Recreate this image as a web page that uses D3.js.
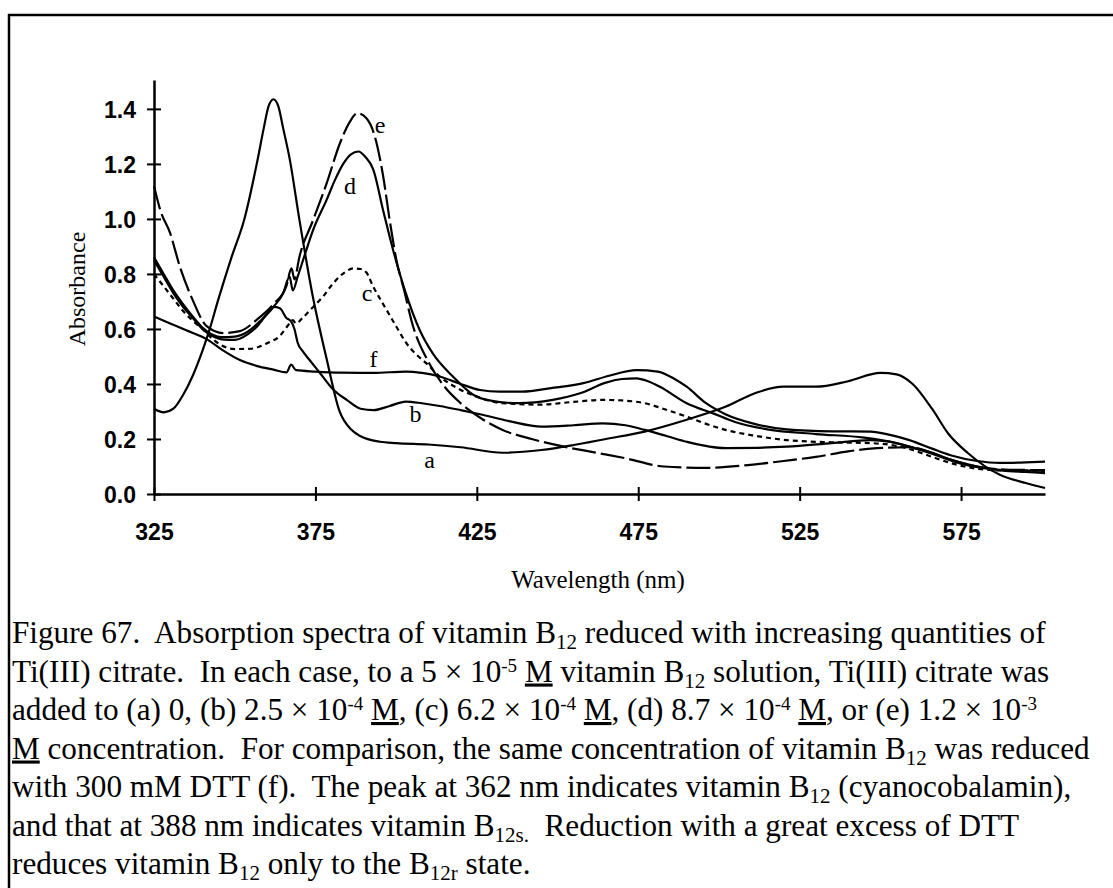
<!DOCTYPE html>
<html>
<head>
<meta charset="utf-8">
<script src="https://cdn.jsdelivr.net/npm/d3@7"></script>
<style>
  html, body { margin: 0; padding: 0; background: #fff; }
  svg { display: block; }
  text { white-space: pre; }
</style>
</head>
<body>
<script>
// ---------- DATA ----------
const xTicks = [325, 375, 425, 475, 525, 575];
const yTicks = [0.0, 0.2, 0.4, 0.6, 0.8, 1.0, 1.2, 1.4];

// (a) vitamin B12, no Ti(III)
const seriesA = [[325,0.31],[328,0.297],[331,0.31],[334,0.36],[337,0.43],[340,0.52],[342,0.59],[345,0.71],[349,0.86],[353,1.0],[357,1.21],[359,1.33],[360.5,1.41],[362,1.435],[363.5,1.41],[365,1.33],[367,1.22],[370,1.0],[374,0.73],[378.5,0.49],[382.5,0.3],[386,0.235],[389,0.21],[395,0.19],[400,0.185],[410,0.18],[420,0.17],[433,0.15],[445,0.16],[455,0.178],[465,0.2],[477,0.227],[490,0.27],[502,0.317],[512,0.37],[520,0.39],[530,0.39],[540,0.41],[550,0.44],[555,0.435],[560,0.4],[566,0.31],[571,0.22],[577,0.15],[587,0.07],[595,0.04],[601,0.022]];
// (b) 2.5e-4 M
const seriesB = [[325,0.85],[328,0.79],[331,0.73],[334,0.68],[337,0.64],[340,0.6],[343,0.575],[346,0.562],[350,0.56],[354,0.58],[357,0.61],[360,0.655],[362,0.68],[364,0.675],[366,0.64],[367.5,0.627],[368.5,0.6],[369.5,0.55],[371,0.52],[373,0.49],[376.4,0.44],[380.5,0.38],[384.7,0.342],[389,0.31],[393,0.305],[398,0.32],[403,0.336],[408,0.33],[413.5,0.32],[420,0.305],[426,0.29],[435,0.265],[445,0.245],[455,0.25],[464,0.257],[471,0.25],[477,0.233],[484,0.21],[490,0.19],[502,0.167],[512,0.168],[521,0.172],[535,0.185],[547,0.196],[553,0.19],[559,0.172],[566,0.15],[572,0.124],[580,0.1],[588,0.085],[595,0.08],[601,0.076]];
// (c) 6.2e-4 M (dashed)
const seriesC = [[325,0.8],[328,0.755],[331,0.71],[334,0.665],[337,0.63],[340,0.6],[343,0.565],[346,0.54],[350,0.527],[355,0.528],[360,0.548],[364,0.575],[367,0.62],[368,0.632],[369,0.62],[371,0.64],[374.3,0.68],[377.5,0.72],[380.5,0.766],[384,0.805],[386.7,0.82],[389,0.818],[390.8,0.805],[392.9,0.754],[395,0.71],[397,0.67],[400,0.61],[403.2,0.548],[406,0.51],[409.4,0.475],[413.5,0.427],[419,0.385],[425,0.354],[433,0.33],[445,0.325],[455,0.335],[464,0.342],[470,0.34],[477,0.33],[484,0.305],[490,0.281],[496,0.255],[502,0.233],[511,0.212],[521,0.196],[535,0.188],[547,0.185],[555,0.175],[560,0.16],[566,0.135],[572,0.112],[580,0.092],[590,0.085],[601,0.085]];
// (d) 8.7e-4 M
const seriesD = [[325,0.86],[328,0.8],[331,0.74],[334,0.69],[337,0.645],[340,0.605],[343,0.58],[346,0.57],[350,0.572],[354,0.59],[358,0.63],[362,0.68],[365,0.73],[367,0.79],[368,0.74],[369.5,0.79],[372,0.88],[374.3,0.96],[378.5,1.07],[381,1.14],[383.6,1.2],[386,1.235],[388.3,1.245],[390.5,1.225],[392.9,1.18],[396,1.03],[399,0.89],[403,0.73],[407.3,0.596],[411.4,0.51],[417.6,0.427],[424,0.36],[428,0.342],[438,0.33],[448.5,0.342],[457,0.366],[465,0.405],[470,0.418],[474.4,0.42],[478,0.41],[481.7,0.39],[490,0.33],[498,0.294],[505,0.262],[515,0.235],[530,0.218],[545,0.205],[555,0.185],[565,0.15],[575,0.11],[585,0.09],[593,0.085],[601,0.085]];
// (e) 1.2e-3 M (long dashes)
const seriesE = [[325,1.12],[327,1.03],[330,0.948],[333,0.827],[337,0.705],[341.3,0.61],[346.4,0.585],[351.6,0.592],[356.8,0.633],[362,0.69],[366,0.756],[367.6,0.82],[368.5,0.78],[370,0.86],[374.3,0.996],[378.5,1.13],[382.6,1.275],[385.7,1.354],[388,1.384],[390.8,1.366],[393.4,1.3],[396,1.154],[398,0.996],[400.1,0.85],[402.5,0.74],[405,0.62],[410,0.48],[415,0.39],[420,0.33],[427,0.27],[433,0.233],[442,0.2],[452,0.172],[462,0.15],[471,0.13],[483,0.1],[496,0.095],[509,0.105],[520,0.12],[530,0.135],[540,0.155],[547,0.165],[559,0.17],[566,0.15],[572,0.124],[580,0.1],[590,0.088],[601,0.087]];
// (f) 300 mM DTT
const seriesF = [[325,0.645],[330,0.62],[335,0.595],[341.3,0.563],[346,0.525],[351.6,0.487],[357,0.465],[362,0.452],[366,0.442],[367.5,0.47],[369,0.45],[375,0.445],[382.6,0.441],[393,0.44],[403,0.445],[408,0.44],[413.5,0.427],[420,0.4],[426,0.378],[432,0.372],[439,0.372],[448,0.385],[458,0.403],[466,0.43],[474.5,0.45],[481,0.445],[486,0.42],[490,0.39],[496,0.33],[502,0.29],[511,0.255],[521,0.235],[535,0.228],[547,0.227],[553,0.215],[559,0.196],[566,0.165],[572,0.14],[580,0.12],[587,0.113],[595,0.115],[601,0.118]];

const seriesNames = ["a", "b", "c", "d", "e", "f"];
const seriesDash = ["none", "none", "5,4", "none", "24,5", "none"];
// label anchor points (wavelength, absorbance)
const labelWl = [410.4, 406, 391, 385.7, 395, 393];
const labelAbs = [0.124, 0.29, 0.73, 1.117, 1.342, 0.49];

const xTitle = "Wavelength (nm)";
const yTitle = "Absorbance";
const captionLines = [
  [["Figure 67.  Absorption spectra of vitamin B"],["12","sub"],[" reduced with increasing quantities of"]],
  [["Ti(III) citrate.  In each case, to a 5 \u00d7 10"],["-5","sup"],[" "],["M","u"],[" vitamin B"],["12","sub"],[" solution, Ti(III) citrate was"]],
  [["added to (a) 0, (b) 2.5 \u00d7 10"],["-4","sup"],[" "],["M","u"],[", (c) 6.2 \u00d7 10"],["-4","sup"],[" "],["M","u"],[", (d) 8.7 \u00d7 10"],["-4","sup"],[" "],["M","u"],[", or (e) 1.2 \u00d7 10"],["-3","sup"]],
  [["M","u"],[" concentration.  For comparison, the same concentration of vitamin B"],["12","sub"],[" was reduced"]],
  [["with 300 mM DTT (f).  The peak at 362 nm indicates vitamin B"],["12","sub"],[" (cyanocobalamin),"]],
  [["and that at 388 nm indicates vitamin B"],["12s.","sub"],["  Reduction with a great excess of DTT"]],
  [["reduces vitamin B"],["12","sub"],[" only to the B"],["12r","sub"],[" state."]]
];

// ---------- DRAW ----------
const W = 1113, H = 888;
const svg = d3.select("body").append("svg").attr("width", W).attr("height", H);
svg.append("rect").attr("width", W).attr("height", H).attr("fill", "#fff");

// frame
svg.append("line").attr("x1", 8).attr("x2", W).attr("y1", 15).attr("y2", 15)
  .attr("stroke", "#000").attr("stroke-width", 2.5);
svg.append("line").attr("x1", 9).attr("x2", 9).attr("y1", 14).attr("y2", H)
  .attr("stroke", "#000").attr("stroke-width", 2.5);

const x = d3.scaleLinear().domain([325, 601]).range([154, 1045]);
const y = d3.scaleLinear().domain([0, 1.505]).range([494, 80]);

const sansFont = "'Liberation Sans', Arial, sans-serif";
const serifFont = "'Liberation Serif', 'Times New Roman', serif";

// x axis
const gx = svg.append("g").attr("transform", `translate(0,${y(0)})`)
  .call(d3.axisBottom(x).tickValues(xTicks).tickSize(7).tickSizeOuter(0).tickFormat(d3.format("d")));
gx.select(".domain").attr("stroke-width", 2.5);
gx.selectAll(".tick line").attr("y1", -7).attr("y2", 7).attr("stroke-width", 2);
gx.selectAll(".tick text").attr("y", 46).attr("dy", 0)
  .attr("font-family", sansFont).attr("font-size", 23).attr("font-weight", "bold").attr("fill", "#000");

// y axis
const gy = svg.append("g").attr("transform", `translate(${x(325)},0)`)
  .call(d3.axisLeft(y).tickValues(yTicks).tickSize(7).tickSizeOuter(0).tickFormat(d3.format(".1f")));
gy.select(".domain").attr("stroke-width", 2.5);
gy.selectAll(".tick line").attr("x1", 7).attr("x2", -7).attr("stroke-width", 2);
gy.selectAll(".tick text").attr("x", -18).attr("dy", "0.36em")
  .attr("font-family", sansFont).attr("font-size", 23).attr("font-weight", "bold").attr("fill", "#000");

// axis titles
svg.append("text").attr("x", 598).attr("y", 588).attr("text-anchor", "middle")
  .attr("font-family", serifFont).attr("font-size", 25).text(xTitle);
svg.append("text").attr("transform", "translate(85,289) rotate(-90)").attr("text-anchor", "middle")
  .attr("font-family", serifFont).attr("font-size", 24).text(yTitle);

// curves
const allSeries = [seriesA, seriesB, seriesC, seriesD, seriesE, seriesF];
const line = d3.line().x(d => x(d[0])).y(d => y(d[1])).curve(d3.curveMonotoneX);
svg.append("g").selectAll("path").data(allSeries).join("path")
  .attr("d", line)
  .attr("fill", "none")
  .attr("stroke", "#000")
  .attr("stroke-width", 2.2)
  .attr("stroke-linejoin", "round")
  .attr("stroke-dasharray", (d, i) => seriesDash[i]);

// curve labels
svg.append("g").selectAll("text").data(seriesNames).join("text")
  .attr("x", (d, i) => x(labelWl[i]))
  .attr("y", (d, i) => y(labelAbs[i]))
  .attr("dy", "0.32em")
  .attr("text-anchor", "middle")
  .attr("font-family", serifFont).attr("font-size", 24)
  .text(d => d);

// caption
const cap = svg.append("g").attr("font-family", serifFont).attr("font-size", 31.2).attr("fill", "#000");
captionLines.forEach((segs, li) => {
  const t = cap.append("text").attr("x", 12).attr("y", 643 + li * 38.5);
  let shift = 0;
  segs.forEach(([txt, kind]) => {
    let target = 0;
    const s = t.append("tspan").text(txt);
    if (kind === "sub") { target = 6; s.attr("font-size", 21); }
    else if (kind === "sup") { target = -10; s.attr("font-size", 19); }
    else if (kind === "u") { s.attr("text-decoration", "underline"); }
    if (target !== shift) { s.attr("dy", target - shift); shift = target; }
  });
});
</script>
</body>
</html>
